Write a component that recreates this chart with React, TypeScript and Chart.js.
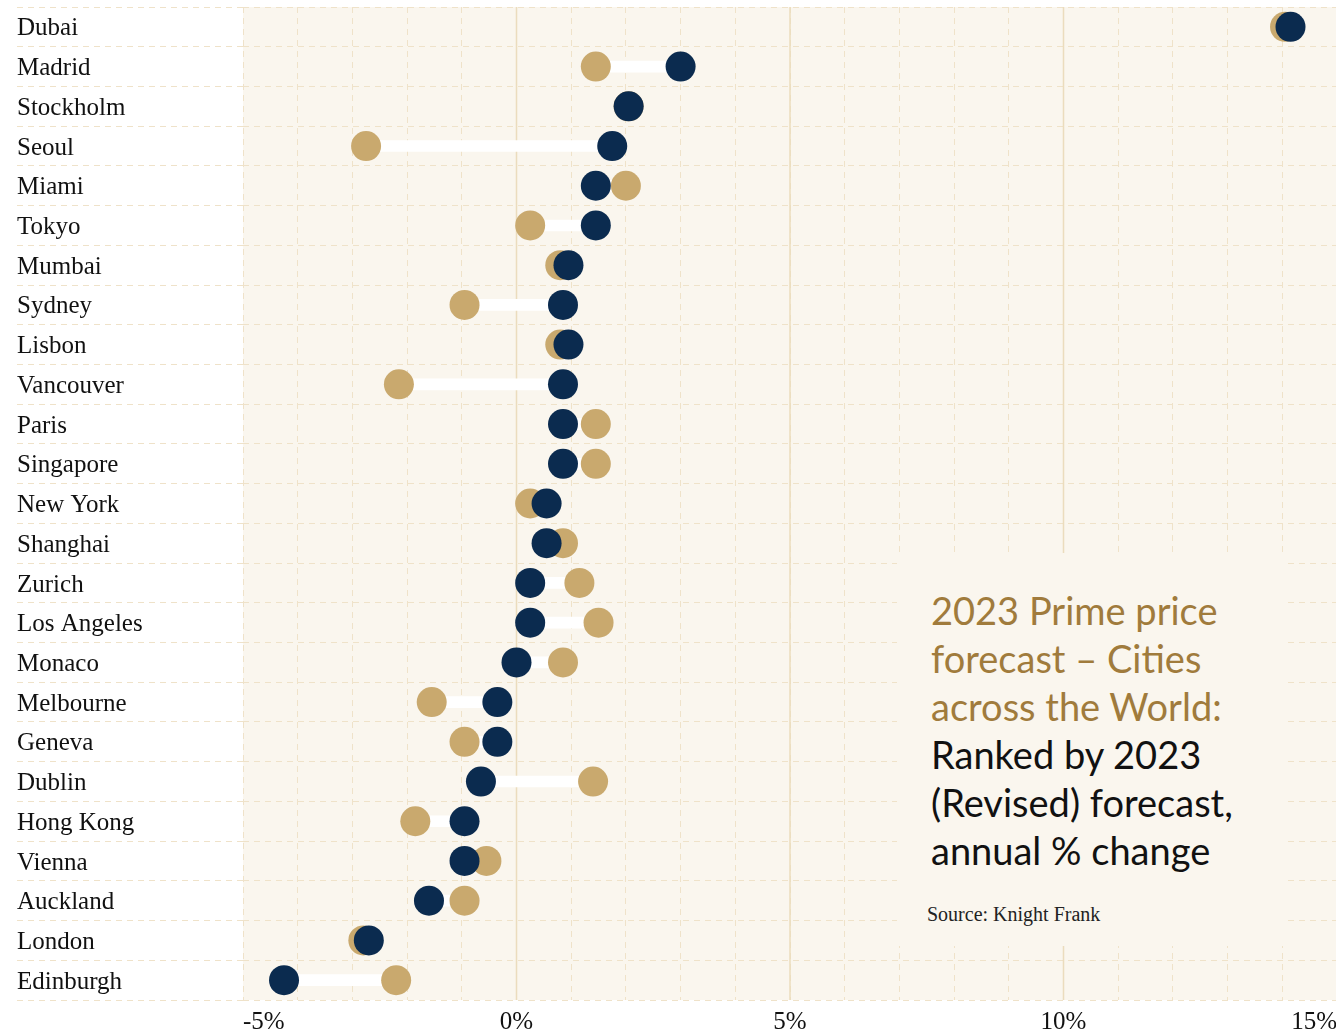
import { useEffect, useRef } from "react";
import { Chart, registerables } from "chart.js";

Chart.register(...registerables);

const cities = [
  "Dubai", "Madrid", "Stockholm", "Seoul", "Miami", "Tokyo", "Mumbai", "Sydney",
  "Lisbon", "Vancouver", "Paris", "Singapore", "New York", "Shanghai", "Zurich",
  "Los Angeles", "Monaco", "Melbourne", "Geneva", "Dublin", "Hong Kong", "Vienna",
  "Auckland", "London", "Edinburgh",
];

// 2023 original forecast (tan)
const forecast2023 = [
  14.05, 1.45, 2.05, -2.75, 2.0, 0.25, 0.8, -0.95,
  0.8, -2.15, 1.45, 1.45, 0.25, 0.85, 1.15,
  1.5, 0.85, -1.55, -0.95, 1.4, -1.85, -0.55,
  -0.95, -2.8, -2.2,
];

// 2023 revised forecast (navy)
const revised2023 = [
  14.15, 3.0, 2.05, 1.75, 1.45, 1.45, 0.95, 0.85,
  0.95, 0.85, 0.85, 0.85, 0.55, 0.55, 0.25,
  0.25, 0.0, -0.35, -0.35, -0.65, -0.95, -0.95,
  -1.6, -2.7, -4.25,
];

const xMin = -5;
const xMax = 15;
const majorLines = [0, 5, 10];

const titleGold = ["2023 Prime price", "forecast \u2013 Cities", "across the World:"];
const titleDark = ["Ranked by 2023", "(Revised) forecast,", "annual % change"];
const sourceText = "Source: Knight Frank";

const CREAM = "#faf6ee";
const DASH = "#efe2c9";
const MAJOR = "#ebdcbd";
const TAN = "#c9a96e";
const NAVY = "#0b2b4f";
const GOLD = "#a07b3c";
const SERIF = "'Liberation Serif', 'DejaVu Serif', serif";

export default function App() {
  const canvasRef = useRef<HTMLCanvasElement | null>(null);

  useEffect(() => {
    document.body.style.margin = "0";
    const canvas = canvasRef.current;
    if (!canvas) return;

    const ranges = forecast2023.map((v, i) => [
      Math.min(v, revised2023[i]),
      Math.max(v, revised2023[i]),
    ]);

    const bgPlugin = {
      id: "bgPlugin",
      beforeDraw(chart: any) {
        const { ctx, chartArea: a } = chart;
        ctx.save();
        ctx.fillStyle = CREAM;
        ctx.fillRect(a.left, a.top, a.right - a.left, a.bottom - a.top);
        ctx.restore();
      },
    };

    const majorPlugin = {
      id: "majorPlugin",
      beforeDatasetsDraw(chart: any) {
        const { ctx, chartArea: a } = chart;
        const xs = chart.scales.x;
        ctx.save();
        ctx.strokeStyle = MAJOR;
        ctx.lineWidth = 1.5;
        majorLines.forEach((v) => {
          const px = xs.getPixelForValue(v);
          ctx.beginPath();
          ctx.moveTo(px, a.top);
          ctx.lineTo(px, a.bottom);
          ctx.stroke();
        });
        ctx.restore();
      },
    };

    const chart = new Chart(canvas, {
      type: "bar",
      data: {
        labels: cities,
        datasets: [
          {
            type: "line",
            label: "2023 (Revised)",
            data: revised2023,
            indexAxis: "y",
            showLine: false,
            pointRadius: 15,
            pointHoverRadius: 15,
            pointBorderWidth: 0,
            pointBackgroundColor: NAVY,
            borderColor: NAVY,
            backgroundColor: NAVY,
            order: 0,
          } as any,
          {
            type: "line",
            label: "2023 forecast",
            data: forecast2023,
            indexAxis: "y",
            showLine: false,
            pointRadius: 15,
            pointHoverRadius: 15,
            pointBorderWidth: 0,
            pointBackgroundColor: TAN,
            borderColor: TAN,
            backgroundColor: TAN,
            order: 1,
          } as any,
          {
            type: "bar",
            label: "range",
            data: ranges,
            indexAxis: "y",
            backgroundColor: "#ffffff",
            borderWidth: 0,
            borderSkipped: false,
            barThickness: 11,
            order: 2,
          } as any,
        ],
      },
      options: {
        indexAxis: "y",
        animation: false,
        responsive: true,
        maintainAspectRatio: false,
        layout: { padding: { left: 17, top: 0, right: 0, bottom: 0 } },
        plugins: {
          legend: { display: false },
          tooltip: { enabled: false },
        },
        scales: {
          x: {
            type: "linear",
            position: "bottom",
            min: xMin,
            max: xMax,
            ticks: {
              stepSize: 1,
              autoSkip: false,
              maxRotation: 0,
              align: "inner",
              padding: 7,
              color: "#111111",
              font: { family: SERIF, size: 25 },
              callback: (v: any) => (Number(v) % 5 === 0 ? `${v}%` : ""),
            },
            grid: { color: DASH, lineWidth: 1, drawTicks: false },
            border: { display: false, dash: [6, 5] },
            afterFit: (s: any) => {
              s.height = 34;
            },
          } as any,
          y: {
            type: "category",
            labels: cities,
            offset: true,
            ticks: {
              crossAlign: "far",
              padding: 0,
              labelOffset: 2,
              autoSkip: false,
              color: "#111111",
              font: { family: SERIF, size: 25 },
            },
            grid: {
              offset: true,
              color: DASH,
              lineWidth: 1,
              drawTicks: true,
              tickLength: 226,
              tickColor: DASH,
              tickWidth: 1,
              tickBorderDash: [6, 5],
            },
            border: { display: false, dash: [6, 5] },
            afterFit: (s: any) => {
              s.width = 226;
            },
          } as any,
        },
      } as any,
      plugins: [bgPlugin, majorPlugin],
    });

    return () => chart.destroy();
  }, []);

  return (
    <div
      style={{
        position: "relative",
        width: 1336,
        height: 1034,
        overflow: "hidden",
        background: "#ffffff",
      }}
    >
      <div style={{ position: "absolute", left: 0, top: -8, width: 1352, height: 1042 }}>
        <canvas ref={canvasRef} />
      </div>
      <div
        style={{
          position: "absolute",
          left: 897,
          top: 553,
          width: 386,
          height: 393,
          background: CREAM,
        }}
      >
        <div
          style={{
            position: "absolute",
            left: 34,
            top: 33,
            fontFamily: "Lato, 'Open Sans', sans-serif",
            fontSize: 38,
            lineHeight: "48px",
            whiteSpace: "nowrap",
          }}
        >
          {titleGold.map((t) => (
            <div key={t} style={{ color: GOLD }}>{t}</div>
          ))}
          {titleDark.map((t) => (
            <div key={t} style={{ color: "#111111" }}>{t}</div>
          ))}
        </div>
        <div
          style={{
            position: "absolute",
            left: 30,
            top: 351,
            fontFamily: SERIF,
            fontSize: 20,
            lineHeight: "20px",
            color: "#222222",
            whiteSpace: "nowrap",
          }}
        >
          {sourceText}
        </div>
      </div>
    </div>
  );
}
